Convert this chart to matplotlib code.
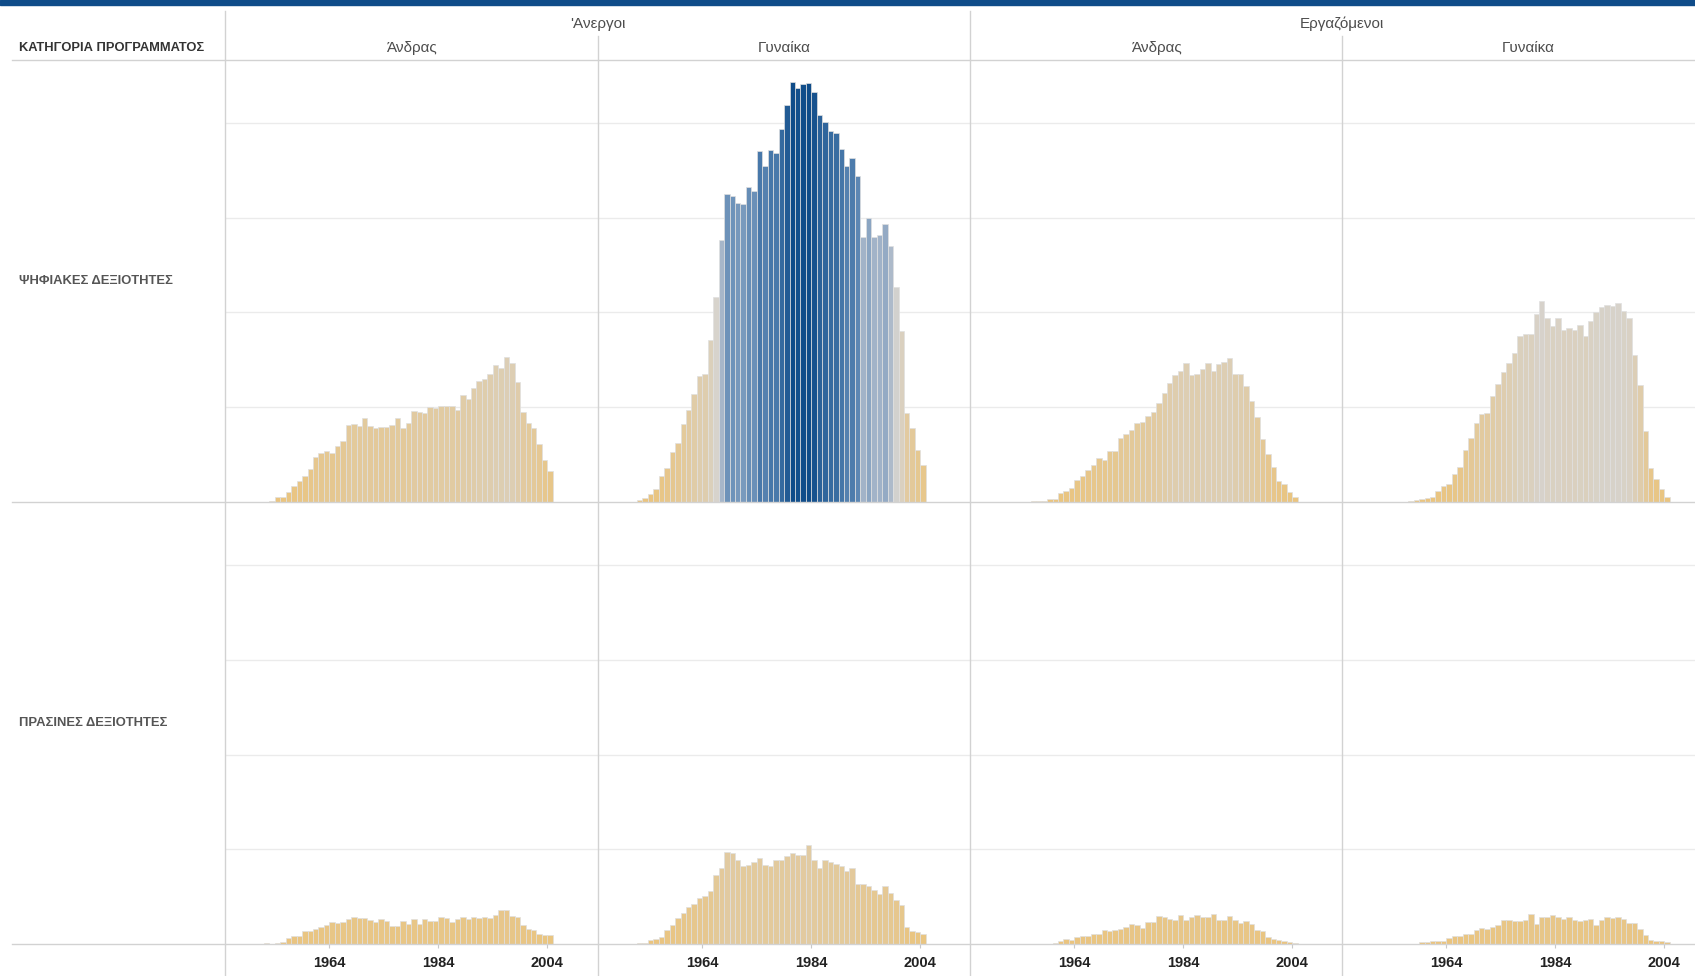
import numpy as np
import matplotlib
matplotlib.use("Agg")
import matplotlib.pyplot as plt
from matplotlib.colors import LinearSegmentedColormap, Normalize
from matplotlib.lines import Line2D
from matplotlib.patches import Rectangle

W, H = 1695, 976

groups = ["'Ανεργοι", "Εργαζόμενοι"]
genders = ["Άνδρας", "Γυναίκα"]
categories = ["ΨΗΦΙΑΚΕΣ ΔΕΞΙΟΤΗΤΕΣ", "ΠΡΑΣΙΝΕΣ ΔΕΞΙΟΤΗΤΕΣ"]
corner_title = "ΚΑΤΗΓΟΡΙΑ ΠΡΟΓΡΑΜΜΑΤΟΣ"
tick_years = [1964, 1984, 2004]

# participants per birth year (one gridline = 1 unit)
dig_unemp_men_start = 1953
dig_unemp_men = [0.01, 0.05, 0.05, 0.10, 0.16, 0.22, 0.27, 0.34, 0.47, 0.51,
                 0.53, 0.51, 0.59, 0.64, 0.81, 0.82, 0.80, 0.88, 0.80, 0.78,
                 0.79, 0.79, 0.81, 0.88, 0.78, 0.83, 0.96, 0.95, 0.94, 1.00,
                 0.99, 1.01, 1.01, 1.01, 0.97, 1.13, 1.08, 1.20, 1.28, 1.30,
                 1.35, 1.44, 1.41, 1.53, 1.46, 1.26, 0.95, 0.83, 0.78, 0.61,
                 0.44, 0.32]

dig_unemp_women_start = 1952
dig_unemp_women = [0.02, 0.035, 0.08, 0.13, 0.27, 0.36, 0.52, 0.62, 0.82, 0.97,
                   1.14, 1.33, 1.35, 1.71, 2.16, 2.77, 3.25, 3.23, 3.16, 3.15,
                   3.33, 3.28, 3.71, 3.55, 3.72, 3.69, 3.94, 4.19, 4.44, 4.37,
                   4.41, 4.43, 4.33, 4.09, 4.01, 3.92, 3.90, 3.73, 3.55, 3.63,
                   3.44, 2.80, 3.00, 2.80, 2.82, 2.93, 2.70, 2.27, 1.80, 0.94,
                   0.78, 0.55, 0.39]

dig_emp_men_start = 1956
dig_emp_men = [0.007, 0.007, 0.01, 0.025, 0.025, 0.09, 0.11, 0.14, 0.23, 0.27,
               0.33, 0.39, 0.46, 0.44, 0.54, 0.53, 0.67, 0.71, 0.76, 0.83,
               0.84, 0.91, 0.95, 1.04, 1.15, 1.25, 1.34, 1.38, 1.46, 1.34,
               1.35, 1.40, 1.47, 1.38, 1.45, 1.48, 1.52, 1.35, 1.35, 1.22,
               1.06, 0.89, 0.66, 0.50, 0.37, 0.22, 0.19, 0.10, 0.05]

dig_emp_women_start = 1957
dig_emp_women = [0.007, 0.018, 0.03, 0.04, 0.05, 0.11, 0.16, 0.19, 0.29, 0.37,
                 0.55, 0.67, 0.83, 0.93, 0.94, 1.12, 1.24, 1.37, 1.46, 1.57,
                 1.75, 1.77, 1.77, 1.98, 2.12, 1.94, 1.86, 1.94, 1.81, 1.83,
                 1.81, 1.87, 1.75, 1.91, 2.00, 2.06, 2.08, 2.07, 2.10, 2.01,
                 1.94, 1.55, 1.23, 0.75, 0.36, 0.24, 0.13, 0.05]

green_unemp_men_start = 1952
green_unemp_men = [0.01, 0.0, 0.01, 0.02, 0.06, 0.08, 0.08, 0.13, 0.13, 0.16,
                   0.18, 0.20, 0.23, 0.22, 0.23, 0.26, 0.28, 0.27, 0.27, 0.25,
                   0.23, 0.26, 0.24, 0.19, 0.19, 0.24, 0.21, 0.26, 0.21, 0.26,
                   0.24, 0.24, 0.28, 0.27, 0.23, 0.26, 0.28, 0.26, 0.28, 0.27,
                   0.28, 0.27, 0.30, 0.36, 0.36, 0.29, 0.28, 0.20, 0.16, 0.14,
                   0.10, 0.09, 0.09]

green_unemp_women_start = 1952
green_unemp_women = [0.01, 0.01, 0.035, 0.045, 0.07, 0.15, 0.20, 0.27, 0.32, 0.39,
                     0.42, 0.48, 0.50, 0.56, 0.73, 0.80, 0.97, 0.96, 0.88, 0.82,
                     0.83, 0.86, 0.91, 0.83, 0.82, 0.88, 0.88, 0.93, 0.96, 0.94,
                     0.94, 1.04, 0.89, 0.80, 0.88, 0.86, 0.84, 0.82, 0.77, 0.80,
                     0.63, 0.63, 0.61, 0.57, 0.53, 0.61, 0.54, 0.46, 0.41, 0.18,
                     0.13, 0.12, 0.10]

green_emp_men_start = 1960
green_emp_men = [0.007, 0.024, 0.05, 0.035, 0.07, 0.077, 0.077, 0.10, 0.10, 0.14,
                 0.13, 0.14, 0.16, 0.18, 0.21, 0.195, 0.17, 0.23, 0.23, 0.29,
                 0.28, 0.26, 0.25, 0.30, 0.25, 0.28, 0.30, 0.28, 0.28, 0.31,
                 0.25, 0.25, 0.29, 0.25, 0.22, 0.24, 0.21, 0.15, 0.13, 0.07,
                 0.05, 0.04, 0.03, 0.02, 0.007]

green_emp_women_start = 1959
green_emp_women = [0.014, 0.014, 0.024, 0.024, 0.024, 0.056, 0.077, 0.077, 0.10, 0.10,
                   0.14, 0.17, 0.16, 0.18, 0.195, 0.25, 0.25, 0.24, 0.24, 0.25,
                   0.31, 0.21, 0.28, 0.28, 0.30, 0.28, 0.26, 0.28, 0.25, 0.24,
                   0.25, 0.26, 0.195, 0.25, 0.28, 0.27, 0.28, 0.26, 0.22, 0.22,
                   0.16, 0.09, 0.04, 0.03, 0.03, 0.014]

panels = [
    [(dig_unemp_men_start, dig_unemp_men), (dig_unemp_women_start, dig_unemp_women),
     (dig_emp_men_start, dig_emp_men), (dig_emp_women_start, dig_emp_women)],
    [(green_unemp_men_start, green_unemp_men), (green_unemp_women_start, green_unemp_women),
     (green_emp_men_start, green_emp_men), (green_emp_women_start, green_emp_women)],
]

# --- layout in pixels ---
col_x = [225, 598, 970, 1342, 1695]
row_y = [60, 501.6, 943.7]
px_per_unit = 94.6
px_per_year = 5.45
x_start = 1944.86

narrow = ['Liberation Sans Narrow', 'Liberation Sans', 'DejaVu Sans']
normal = ['Liberation Sans', 'DejaVu Sans']

# orange -> grey -> blue diverging scale
cmap = LinearSegmentedColormap.from_list('ob', [
    (0.0, '#EAC47E'), (0.5, '#D6D3CE'), (0.62, '#A8B7CA'),
    (0.73, '#6E93BA'), (0.84, '#4677A9'), (1.0, '#0F4C89')])
vmax = max(max(v) for row in panels for _, v in row)
norm = Normalize(0, vmax)

fig = plt.figure(figsize=(W / 100, H / 100), dpi=100)


def fx(px):
    return px / W


def fy(py):
    return 1 - py / H


for r in range(2):
    for c in range(4):
        x0, x1 = col_x[c], col_x[c + 1]
        y0, y1 = row_y[r], row_y[r + 1]
        ax = fig.add_axes([fx(x0), fy(y1), fx(x1 - x0), (y1 - y0) / H])
        ax.set_xlim(x_start, x_start + (x1 - x0) / px_per_year)
        ax.set_ylim(0, (y1 - y0) / px_per_unit)
        for g in [1, 2, 3, 4]:
            ax.axhline(g, color='#ebebeb', lw=1, zorder=1)
        start, vals = panels[r][c]
        vals = np.array(vals)
        years = start + np.arange(len(vals))
        ax.bar(years, vals, width=1.0, align='edge', color=cmap(norm(vals)),
               edgecolor='#e0e0e0', linewidth=0.5, zorder=2)
        for s in ax.spines.values():
            s.set_visible(False)
        ax.set_yticks([])
        if r == 1:
            ax.set_xticks(tick_years)
            ax.set_xticklabels([str(y) for y in tick_years], fontweight='bold',
                               family=normal, fontsize=10.5, color='#222222')
            ax.tick_params(axis='x', length=3, color='#c8c8c8', pad=5.5)
        else:
            ax.set_xticks([])

# top blue band
fig.patches.append(Rectangle((0, fy(5)), 1, 5 / H, transform=fig.transFigure,
                             color='#0f4c89', zorder=5))

line_col = '#d2d2d2'
for yy in [59.5, 501.6, 943.7]:
    fig.add_artist(Line2D([fx(12), 1], [fy(yy), fy(yy)], color=line_col, lw=1))
for xx, ytop in [(225, 11), (970, 11), (598, 36), (1342, 36)]:
    fig.add_artist(Line2D([fx(xx), fx(xx)], [fy(ytop), 0], color=line_col, lw=1))

# headers
fig.text(fx(598), fy(24), groups[0], ha='center', va='center', family=narrow,
         fontsize=11, color='#4d4d4d')
fig.text(fx(1342), fy(24), groups[1], ha='center', va='center', family=narrow,
         fontsize=11, color='#4d4d4d')
for cx, g in zip([411.5, 784, 1156, 1528], genders * 2):
    fig.text(fx(cx), fy(48), g, ha='center', va='center', family=narrow,
             fontsize=11, color='#4d4d4d')

fig.text(fx(19), fy(48), corner_title, ha='left', va='center', family=normal,
         fontweight='bold', fontsize=9.3, color='#333333')
for yy, cat in zip([281, 723], categories):
    fig.text(fx(19), fy(yy), cat, ha='left', va='center', family=normal,
             fontweight='bold', fontsize=9.4, color='#555555')

fig.savefig('out.png', dpi=100)
